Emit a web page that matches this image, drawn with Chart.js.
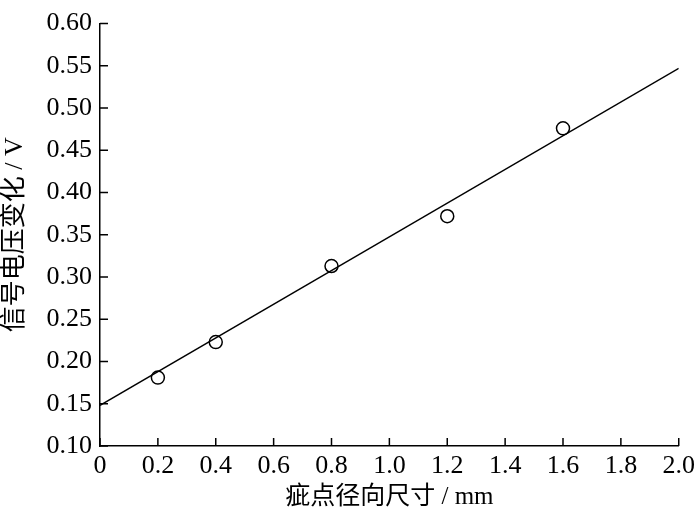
<!DOCTYPE html>
<html>
<head>
<meta charset="utf-8">
<script src="https://cdn.jsdelivr.net/npm/chart.js@4/dist/chart.umd.min.js"></script>
<style>
  html, body { margin: 0; padding: 0; background: #fff; }
  #wrap { width: 700px; height: 512px; }
</style>
</head>
<body>
<div id="wrap"><canvas id="chart" width="700" height="512"></canvas></div>
<script>
// measured points
const sizeX = [0.2, 0.4, 0.8, 1.2, 1.6];
const signalY = [0.181, 0.223, 0.313, 0.372, 0.476];
// fitted line ends
const fitX = [0, 2.0];
const fitY = [0.148, 0.547];

const xTitle = '疵点径向尺寸 / mm';
const yTitle = '信号电压变化 / V';

const serif = "'Liberation Serif', 'Times New Roman', serif";
const cjk = "'Liberation Serif', 'Noto Sans CJK SC', serif";

// ticks drawn inward from the axes
const innerTicks = {
  id: 'innerTicks',
  afterDraw(chart) {
    const { ctx, scales: { x, y } } = chart;
    ctx.save();
    ctx.strokeStyle = '#000';
    ctx.lineWidth = 1.5;
    ctx.beginPath();
    x.ticks.forEach((t, i) => {
      const px = x.getPixelForTick(i);
      ctx.moveTo(px, x.top);
      ctx.lineTo(px, x.top - 8);
    });
    y.ticks.forEach((t, i) => {
      const py = y.getPixelForTick(i);
      ctx.moveTo(y.right, py);
      ctx.lineTo(y.right + 8, py);
    });
    ctx.stroke();
    ctx.restore();
  }
};

new Chart(document.getElementById('chart'), {
  type: 'scatter',
  data: {
    datasets: [
      {
        type: 'line',
        data: fitX.map((v, i) => ({ x: v, y: fitY[i] })),
        borderColor: '#000',
        borderWidth: 1.5,
        pointRadius: 0,
        fill: false
      },
      {
        data: sizeX.map((v, i) => ({ x: v, y: signalY[i] })),
        pointStyle: 'circle',
        pointRadius: 6.5,
        pointBorderWidth: 1.5,
        pointBorderColor: '#000',
        pointBackgroundColor: 'rgba(0,0,0,0)'
      }
    ]
  },
  options: {
    responsive: false,
    animation: false,
    layout: { padding: { top: 5, right: 15, left: 0, bottom: 0 } },
    plugins: { legend: { display: false }, tooltip: { enabled: false } },
    scales: {
      x: {
        type: 'linear',
        min: 0, max: 2.0,
        grid: { drawOnChartArea: false, drawTicks: false },
        border: { color: '#000', width: 1.5 },
        ticks: {
          stepSize: 0.2,
          padding: 5,
          color: '#000',
          font: { family: serif, size: 26 },
          callback: v => v === 0 ? '0' : v.toFixed(1)
        },
        title: {
          display: true,
          text: xTitle,
          color: '#000',
          font: { family: cjk, size: 25 },
          padding: { top: 0, bottom: 0 }
        },
        afterFit(s) { s.height = 66; }
      },
      y: {
        min: 0.10, max: 0.60,
        grid: { drawOnChartArea: false, drawTicks: false },
        border: { color: '#000', width: 1.5 },
        ticks: {
          stepSize: 0.05,
          padding: 8,
          color: '#000',
          font: { family: serif, size: 26 },
          callback: v => v.toFixed(2)
        },
        title: {
          display: true,
          text: yTitle,
          color: '#000',
          font: { family: cjk, size: 26 },
          padding: { top: 0, bottom: 2 }
        },
        afterFit(s) { s.width = 100; }
      }
    }
  },
  plugins: [innerTicks]
});
</script>
</body>
</html>
